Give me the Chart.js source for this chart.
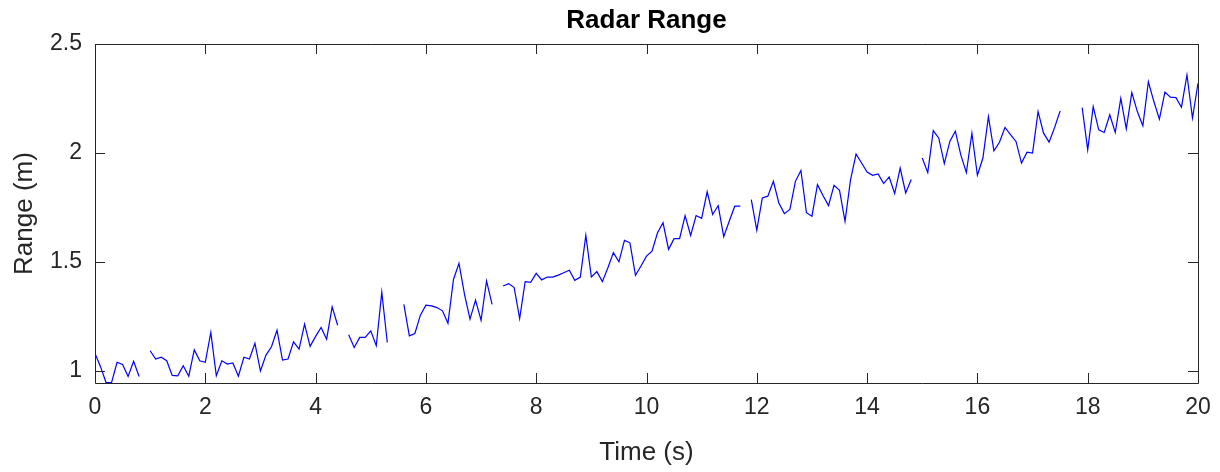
<!DOCTYPE html>
<html>
<head>
<meta charset="utf-8">
<title>Radar Range</title>
<script src="https://cdn.jsdelivr.net/npm/chart.js@4/dist/chart.umd.min.js"></script>
<style>
  html, body { margin: 0; padding: 0; background: #fff; }
  #wrap { width: 1220px; height: 472px; }
</style>
</head>
<body>
<div id="wrap"><canvas id="chart" width="1220" height="472"></canvas></div>
<script>
// time (s) where each recorded segment begins; samples every 0.1 s
const segmentStarts = [0, 1.0, 4.6, 5.6, 7.4, 11.9, 15.0, 17.9];
const sampleStep = 0.1;

// range readings (m) per segment
const seg1 = [1.08, 1.02, 0.947, 0.947, 1.04, 1.03, 0.975, 1.045, 0.975];
const seg2 = [1.093, 1.055, 1.063, 1.047, 0.98, 0.978, 1.024, 0.976, 1.097, 1.047,
              1.04, 1.177, 0.978, 1.047, 1.032, 1.037, 0.976, 1.063, 1.055, 1.127,
              1.0, 1.073, 1.111, 1.187, 1.05, 1.055, 1.134, 1.1, 1.215, 1.113,
              1.159, 1.2, 1.146, 1.294, 1.21];
const seg3 = [1.166, 1.108, 1.154, 1.154, 1.184, 1.116, 1.362, 1.131];
const seg4 = [1.306, 1.161, 1.172, 1.256, 1.302, 1.299, 1.291, 1.276, 1.219, 1.42,
              1.494, 1.352, 1.238, 1.325, 1.233, 1.413, 1.306];
const seg5 = [1.39, 1.401, 1.383, 1.241, 1.41, 1.407, 1.448, 1.418, 1.431, 1.431,
              1.44, 1.451, 1.462, 1.416, 1.431, 1.622, 1.431, 1.456, 1.41, 1.474,
              1.543, 1.501, 1.599, 1.588, 1.439, 1.482, 1.527, 1.55, 1.634, 1.68,
              1.558, 1.607, 1.607, 1.713, 1.622, 1.713, 1.7, 1.822, 1.718, 1.759,
              1.616, 1.687, 1.756, 1.756];
const seg6 = [1.786, 1.646, 1.794, 1.802, 1.87, 1.771, 1.722, 1.741, 1.87, 1.92,
              1.726, 1.71, 1.855, 1.805, 1.759, 1.852, 1.829, 1.687, 1.878, 1.995,
              1.954, 1.913, 1.898, 1.904, 1.86, 1.89, 1.814, 1.931, 1.817, 1.878];
const seg7 = [1.977, 1.91, 2.103, 2.068, 1.951, 2.053, 2.1, 1.99, 1.91, 2.091,
              1.898, 1.977, 2.167, 2.01, 2.049, 2.117, 2.084, 2.053, 1.954, 2.004,
              2.0, 2.19, 2.091, 2.05, 2.117, 2.193];
const seg8 = [2.208, 2.015, 2.213, 2.106, 2.094, 2.175, 2.094, 2.251, 2.111, 2.277,
              2.19, 2.125, 2.327, 2.236, 2.155, 2.279, 2.256, 2.254, 2.21, 2.358,
              2.16, 2.32];

const xTicks = [0, 2, 4, 6, 8, 10, 12, 14, 16, 18, 20];
const yTicks = [1, 1.5, 2, 2.5];

const axisColor = '#262626';
const fontFamily = '"Liberation Sans", Arial, Helvetica, sans-serif';

function buildPoints(){
  const segs = [seg1, seg2, seg3, seg4, seg5, seg6, seg7, seg8];
  const pts = [];
  segs.forEach((vals, s) => {
    const t0 = segmentStarts[s];
    vals.forEach((v, i) => pts.push({ x: +(t0 + i * sampleStep).toFixed(2), y: v }));
    // break the line between segments
    const last = +(t0 + vals.length * sampleStep).toFixed(2);
    if(s < segs.length - 1) pts.push({ x: last, y: null });
  });
  return pts;
}

// MATLAB-style box with inward ticks
const boxPlugin = {
  id: 'matlabBox',
  afterDatasetsDraw(chart){
    const { ctx, chartArea: a, scales } = chart;
    const len = 10;
    ctx.save();
    ctx.strokeStyle = axisColor;
    ctx.lineWidth = 1;
    ctx.beginPath();
    ctx.rect(Math.round(a.left) + 0.5, Math.round(a.top) + 0.5,
             Math.round(a.right - a.left), Math.round(a.bottom - a.top));
    xTicks.forEach(t => {
      const px = Math.round(scales.x.getPixelForValue(t)) + 0.5;
      ctx.moveTo(px, a.bottom); ctx.lineTo(px, a.bottom - len);
      ctx.moveTo(px, a.top); ctx.lineTo(px, a.top + len);
    });
    yTicks.forEach(t => {
      const py = Math.round(scales.y.getPixelForValue(t)) + 0.5;
      ctx.moveTo(a.left, py); ctx.lineTo(a.left + len, py);
      ctx.moveTo(a.right, py); ctx.lineTo(a.right - len, py);
    });
    ctx.stroke();
    ctx.restore();
  }
};

document.addEventListener('DOMContentLoaded', () => {
  const ctx = document.getElementById('chart');
  new Chart(ctx, {
    type: 'line',
    data: {
      datasets: [{
        label: 'Range',
        data: buildPoints(),
        borderColor: '#0000ff',
        borderWidth: 1.2,
        pointRadius: 0,
        tension: 0,
        spanGaps: false
      }]
    },
    options: {
      responsive: false,
      animation: false,
      devicePixelRatio: 1,
      layout: { padding: { left: 0, right: 22, top: 0, bottom: 0 } },
      plugins: {
        legend: { display: false },
        tooltip: { enabled: false },
        title: {
          display: true,
          text: 'Radar Range',
          color: '#000',
          fullSize: false,
          font: { family: fontFamily, size: 26, weight: 'bold' },
          padding: { top: 5, bottom: 7.8 }
        }
      },
      scales: {
        x: {
          type: 'linear',
          min: 0, max: 20,
          afterBuildTicks: s => { s.ticks = xTicks.map(v => ({ value: v })); },
          afterFit: s => { s.height = 89; s.paddingLeft = 0; s.paddingRight = 0; },
          grid: { display: false, drawTicks: false },
          border: { display: false },
          ticks: { color: axisColor, padding: 11, maxRotation: 0,
                   callback: v => String(v),
                   font: { family: fontFamily, size: 23 } },
          title: { display: true, text: 'Time (s)', color: axisColor,
                   font: { family: fontFamily, size: 26 },
                   padding: { top: 0, bottom: 4 } }
        },
        y: {
          min: 0.945, max: 2.5,
          afterBuildTicks: s => { s.ticks = yTicks.map(v => ({ value: v })); },
          afterFit: s => { s.width = 95; s.paddingTop = 0; s.paddingBottom = 0; },
          grid: { display: false, drawTicks: false },
          border: { display: false },
          ticks: { color: axisColor, padding: 13,
                   callback: v => String(v),
                   font: { family: fontFamily, size: 23 } },
          title: { display: true, text: 'Range (m)', color: axisColor,
                   font: { family: fontFamily, size: 26 },
                   padding: { top: 9, bottom: 0 } }
        }
      }
    },
    plugins: [boxPlugin]
  });
});
</script>
</body>
</html>
